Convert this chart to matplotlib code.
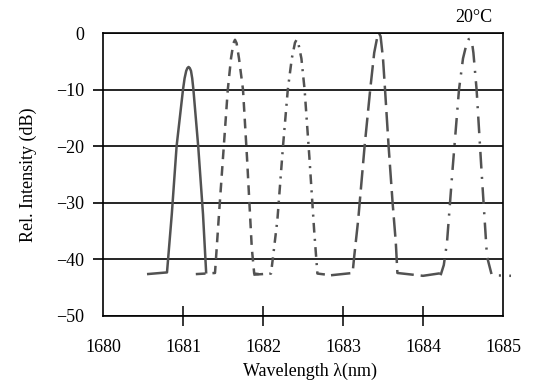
import matplotlib
matplotlib.use('Agg')
import matplotlib.pyplot as plt

plt.rcParams['font.family'] = ['Liberation Serif', 'DejaVu Serif']
plt.rcParams['lines.scale_dashes'] = False

# wavelength (nm) / relative intensity (dB)
wl_1 = [1680.55, 1680.80, 1680.86, 1680.92, 1681.00, 1681.02, 1681.04, 1681.055,
        1681.07, 1681.085, 1681.10, 1681.115, 1681.13, 1681.19, 1681.25, 1681.29]
db_1 = [-42.6, -42.3, -32, -20, -10, -8, -6.7, -6.2, -6.0, -6.2, -6.7, -8, -10,
        -20, -32, -42.5]

wl_2 = [1681.16, 1681.40, 1681.45, 1681.51, 1681.56, 1681.60, 1681.63, 1681.65,
        1681.67, 1681.70, 1681.75, 1681.80, 1681.86, 1681.89, 1681.95]
db_2 = [-42.6, -42.4, -32, -20, -10, -4.5, -1.8, -1.2, -1.8, -4.5, -10, -22, -38,
        -42.5, -42.6]

wl_3 = [1681.88, 1682.10, 1682.13, 1682.18, 1682.25, 1682.31, 1682.36, 1682.40,
        1682.42, 1682.44, 1682.48, 1682.52, 1682.58, 1682.64, 1682.68, 1682.85]
db_3 = [-42.7, -42.5, -39, -33, -20, -10, -4.5, -1.7, -1.2, -1.7, -4.5, -10, -22,
        -35, -42.5, -42.8]

wl_4 = [1682.85, 1683.12, 1683.14, 1683.19, 1683.27, 1683.34, 1683.39, 1683.43,
        1683.45, 1683.47, 1683.50, 1683.53, 1683.57, 1683.62, 1683.66, 1683.68,
        1684.00, 1684.24]
db_4 = [-42.8, -42.4, -39.5, -33, -20, -10, -3.5, -0.6, 0, -0.6, -4.5, -11, -20,
        -30, -37, -42.4, -42.9, -42.4]

wl_5 = [1684.22, 1684.26, 1684.30, 1684.37, 1684.45, 1684.50, 1684.55, 1684.57,
        1684.59, 1684.61, 1684.63, 1684.67, 1684.73, 1684.80, 1684.86, 1685.10]
db_5 = [-42.8, -41, -37, -24, -10, -4.5, -1.6, -1.1, -1, -1.4, -3.5, -10, -24,
        -39.5, -42.8, -42.9]

x_ticks = [1680, 1681, 1682, 1683, 1684, 1685]
y_ticks = [0, -10, -20, -30, -40, -50]

fig = plt.figure(figsize=(5.33, 3.88), dpi=100)
ax = fig.add_axes([103 / 533, 1 - 316 / 388, 400 / 533, 283 / 388])

grey = '#525252'
lw = 1.8
styles = [
    (wl_1, db_1, '-'),
    (wl_2, db_2, (0, (7, 5))),
    (wl_3, db_3, (0, (7, 4.5, 1.5, 4.5))),
    (wl_4, db_4, (0, (14, 5))),
    (wl_5, db_5, (0, (12, 6, 1.5, 6))),
]
for wl, db, ls in styles:
    ax.plot(wl, db, color=grey, lw=lw, linestyle=ls, clip_on=False,
            solid_capstyle='butt', dash_capstyle='butt')

ax.set_xlim(1680, 1685)
ax.set_ylim(-50, 0)
ax.set_xticks(x_ticks)
ax.set_yticks(y_ticks)
ax.set_xticklabels([str(t) for t in x_ticks])
ax.set_yticklabels([str(t).replace('-', '\u2212') for t in y_ticks])

ax.tick_params(axis='x', direction='inout', length=14.5, width=1.1, pad=9.5,
               labelsize=13)
ax.tick_params(axis='y', direction='out', length=7.5, width=1.2, pad=6,
               labelsize=13)
xt = ax.xaxis.get_major_ticks()
xt[0].tick1line.set_visible(False)
xt[-1].tick1line.set_visible(False)
yt = ax.yaxis.get_major_ticks()
yt[0].tick1line.set_visible(False)
yt[-1].tick1line.set_visible(False)

ax.grid(axis='y', color='black', lw=1.2)
ax.set_axisbelow(True)
for s in ax.spines.values():
    s.set_linewidth(1.2)

ax.set_xlabel('Wavelength \u03bb(nm)', fontsize=13)
ax.xaxis.set_label_coords(0.5175, -0.164)
ax.set_ylabel('Rel. Intensity (dB)', fontsize=13)
ax.yaxis.set_label_coords(-0.165, 0.5)

ax.text(1684.64, 2.8, '20\u00b0C', ha='center', va='center', fontsize=13,
        clip_on=False)

fig.savefig('out.png', dpi=100)
